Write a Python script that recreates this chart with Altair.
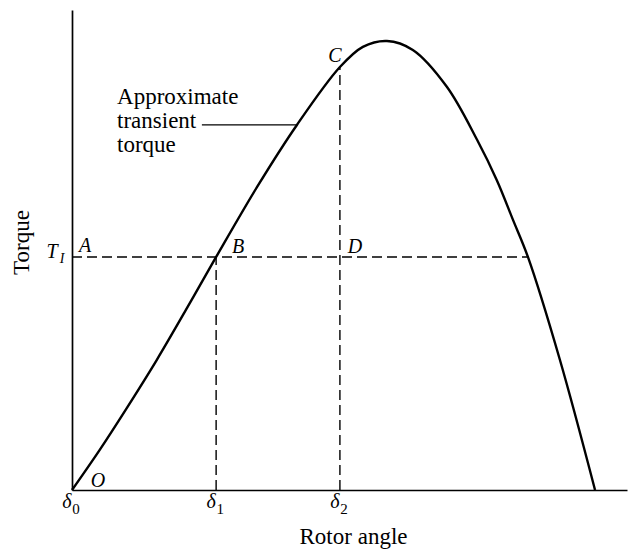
import altair as alt
import pandas as pd

# Rotor angle (arbitrary degrees) and torque (per unit of peak) along the
# approximate transient torque curve
angle = [0.0, 9.6, 18.9, 29.2, 39.2, 49.6, 63.7, 77.4, 92.2, 100.1,
         108.4, 117.3, 129.0, 139.4, 146.2, 151.8, 156.9, 167.9, 180.0]
torque = [0.0, 0.090, 0.183, 0.290, 0.401, 0.519, 0.675, 0.813, 0.942, 0.987,
          1.0, 0.980, 0.898, 0.780, 0.690, 0.601, 0.519, 0.290, 0.0]

T1 = 0.519          # accelerating torque level (A-B-D line)
delta1 = 49.6       # rotor angle at B
delta2 = 92.2       # rotor angle at C / D
torque_c = 0.942    # torque at C
t1_far = 156.9      # far intersection of T1 with the curve

X_MAX, Y_MAX = 191, 1.069
SERIF = "Liberation Serif"
INK = "#000"

xs = alt.Scale(domain=[0, X_MAX], nice=False, zero=False)
ys = alt.Scale(domain=[0, Y_MAX], nice=False, zero=False)

curve_df = pd.DataFrame({"angle": angle, "torque": torque})

base_axis = dict(grid=False, ticks=False, labels=False, domainColor=INK,
                 domainWidth=1.7, titleFont=SERIF, titleFontSize=23,
                 titleFontWeight="normal", titleColor=INK)

curve = alt.Chart(curve_df).mark_line(
    color=INK, strokeWidth=2.4, interpolate="catmull-rom"
).encode(
    x=alt.X("angle:Q", scale=xs,
            axis=alt.Axis(title="Rotor angle", titleX=281, titleY=53,
                          titleAnchor="start", titleAlign="center",
                          titleBaseline="alphabetic", **base_axis)),
    y=alt.Y("torque:Q", scale=ys,
            axis=alt.Axis(title="Torque", titleX=-51, titleY=232,
                          titleAngle=270, titleAlign="center",
                          titleBaseline="middle", **base_axis)),
)

dash_df = pd.DataFrame({
    "x": [0.0, delta1, delta2],
    "x2": [t1_far, delta1, delta2],
    "y": [T1, 0.0, 0.0],
    "y2": [T1, T1, torque_c],
})
dashes = alt.Chart(dash_df).mark_rule(
    color=INK, strokeWidth=1.4, strokeDash=[10, 5]
).encode(x="x:Q", x2="x2:Q", y="y:Q", y2="y2:Q")

# leader from the label to the curve
leader_df = pd.DataFrame({"x": [44.7], "x2": [77.4], "y": [0.813]})
leader = alt.Chart(leader_df).mark_rule(color=INK, strokeWidth=1.3).encode(
    x="x:Q", x2="x2:Q", y="y:Q")

note_df = pd.DataFrame({"x": [15.5], "y": [0.860],
                        "t": [["Approximate", "transient", "torque"]]})
note = alt.Chart(note_df).mark_text(
    font=SERIF, fontSize=23, align="left", baseline="alphabetic",
    lineHeight=24, color=INK
).encode(x="x:Q", y="y:Q", text="t")

# italic point letters placed relative to the points they name
pts_df = pd.DataFrame({
    "x": [0.0, delta1, delta2, delta2, 0.0],
    "y": [T1, T1, T1, torque_c, 0.0],
    "t": ["A", "B", "D", "C", "O"],
    "dx": [13, 22, 15, -5, 26],
    "dy": [-5, -4, -4, -5, -3],
})
letters = []
for _, r in pts_df.iterrows():
    letters.append(
        alt.Chart(pd.DataFrame([r])).mark_text(
            font=SERIF, fontSize=20, fontStyle="italic", align="center",
            baseline="alphabetic", dx=int(r.dx), dy=int(r.dy), color=INK
        ).encode(x="x:Q", y="y:Q", text="t:N")
    )

# T_I on the torque axis
t_main = alt.Chart(pd.DataFrame({"x": [0.0], "y": [T1], "t": ["T"]})).mark_text(
    font=SERIF, fontSize=20, fontStyle="italic", align="center",
    baseline="alphabetic", dx=-20, dy=1, color=INK
).encode(x="x:Q", y="y:Q", text="t:N")
t_sub = alt.Chart(pd.DataFrame({"x": [0.0], "y": [T1], "t": ["I"]})).mark_text(
    font=SERIF, fontSize=14, fontStyle="italic", align="center",
    baseline="alphabetic", dx=-10, dy=6, color=INK
).encode(x="x:Q", y="y:Q", text="t:N")

# delta tick labels along the rotor-angle axis
tick_df = pd.DataFrame({"x": [0.0, delta1, delta2], "s": ["0", "1", "2"],
                        "d": ["δ", "δ", "δ"], "y": [0.0, 0.0, 0.0]})
tick_dx = [-5, -5, -5]
tick_layers = []
for i, r in tick_df.iterrows():
    row = pd.DataFrame([r])
    tick_layers.append(alt.Chart(row).mark_text(
        font=SERIF, fontSize=20, fontStyle="italic", align="center",
        baseline="alphabetic", dx=tick_dx[i], dy=18, color=INK
    ).encode(x="x:Q", y="y:Q", text="d:N"))
    tick_layers.append(alt.Chart(row).mark_text(
        font=SERIF, fontSize=15, align="center",
        baseline="alphabetic", dx=tick_dx[i] + 9, dy=24, color=INK
    ).encode(x="x:Q", y="y:Q", text="s:N"))

chart = alt.layer(
    dashes, leader, curve, note, t_main, t_sub, *letters, *tick_layers
).properties(
    width=555, height=480,
    autosize=alt.AutoSizeParams(type="none"),
    padding={"left": 72, "top": 10, "right": 2, "bottom": 59},
    background="white",
).configure_view(stroke=None)

chart.save("out.html", embed_options={"renderer": "svg", "actions": False})
